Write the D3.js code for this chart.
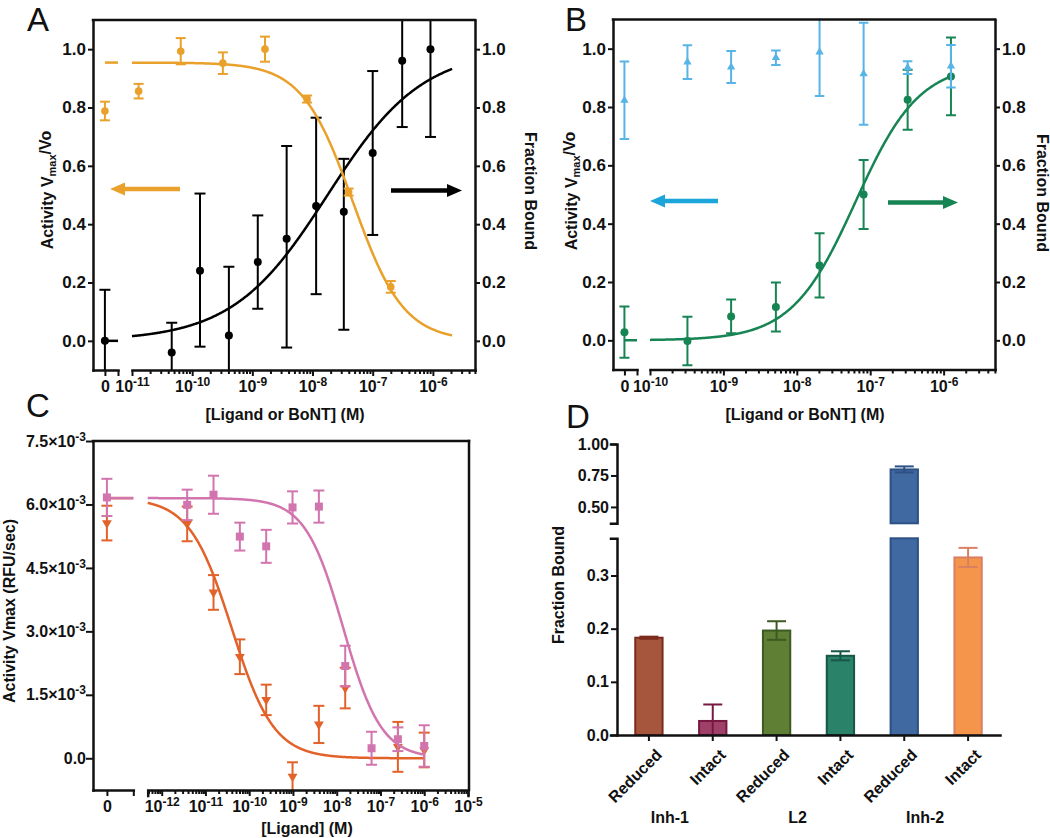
<!DOCTYPE html>
<html><head><meta charset="utf-8">
<script src="https://cdn.jsdelivr.net/npm/d3@7"></script>
<style>
body{margin:0;background:#fff;}
svg text{font-family:"Liberation Sans",Arial,Helvetica,sans-serif;}
</style></head><body>
<svg id="fig" width="1050" height="838"></svg>
<script>
// ================= DATA =================
// Panel A  (x = log10 concentration in M; "Zero" = no ligand control)
const aActLogX   = [-10.89,-10.19,-9.49,-8.79,-8.09,-7.40,-6.70];
const aActVal    = [0.856,0.993,0.952,1.000,0.829,0.510,0.185];
const aActErr    = [0.025,0.045,0.037,0.043,0.012,0.012,0.020];
const aActZero   = [0.788,0.032];               // value, error
const aBoundLogX = [-10.34,-9.87,-9.39,-8.91,-8.43,-7.94,-7.48,-7.00,-6.51,-6.04];
const aBoundVal  = [-0.040,0.240,0.018,0.270,0.350,0.462,0.443,0.644,0.960,1.000];
const aBoundLo   = [-0.140,-0.020,-0.220,0.110,-0.023,0.160,0.038,0.363,0.733,0.699];
const aBoundHi   = [0.062,0.505,0.254,0.430,0.668,0.765,0.624,0.925,1.190,1.300];
const aBoundZero = [0.000,-0.175,0.175];        // value, lo, hi
const aActFit    = [0.954,0,-7.33,1.03];        // start, end, logX50, hill
const aBoundFit  = [0,1.0,-7.75,0.55];
const aFitRange  = [-11,-5.68];

// Panel B
const bActLogX   = [-9.49,-8.895,-8.285,-7.69,-7.09,-6.49,-5.90];
const bActVal    = [0.954,0.937,0.969,0.988,0.914,0.935,0.940];
const bActErr    = [0.058,0.055,0.025,0.150,0.175,0.022,0.073];
const bActZero   = [0.823,0.133];
const bBoundLogX = [-9.49,-8.895,-8.285,-7.69,-7.09,-6.49,-5.90];
const bBoundVal  = [-0.002,0.082,0.114,0.257,0.500,0.825,0.905];
const bBoundErr  = [0.083,0.058,0.084,0.110,0.118,0.103,0.133];
const bBoundZero = [0.028,0.088];
const bBoundFit  = [0,0.95,-7.2,1.0];
const bFitRange  = [-10,-5.9];

// Panel C (values in RFU/sec)
const cPinkLogX  = [-11.418,-10.816,-10.214,-9.612,-9.010,-8.408,-7.806,-7.204,-6.602,-6.000];
const cPinkVal   = [5.99e-3,6.23e-3,5.24e-3,5.01e-3,5.93e-3,5.95e-3,2.18e-3,0.237e-3,0.45e-3,0.29e-3];
const cPinkErr   = [0.36e-3,0.45e-3,0.33e-3,0.39e-3,0.38e-3,0.38e-3,0.48e-3,0.39e-3,0.28e-3,0.49e-3];
const cPinkZero  = [6.166e-3,0.44e-3];
const cOrLogX    = [-11.418,-10.816,-10.214,-9.612,-9.010,-8.408,-7.806,-6.602,-6.000];
const cOrVal     = [5.54e-3,3.92e-3,2.40e-3,1.38e-3,-0.435e-3,0.80e-3,1.66e-3,0.27e-3,0.196e-3];
const cOrErr     = [0.41e-3,0.41e-3,0.41e-3,0.36e-3,0.34e-3,0.44e-3,0.48e-3,0.59e-3,0.41e-3];
const cOrZero    = [5.56e-3,0.41e-3];
const cPinkFit   = [6.15e-3,0,-7.85,1.0];
const cOrFit     = [6.15e-3,0,-10.4,0.9];
const cFitRange  = [-12.32,-6.0];
const cYTicks    = [0,1.5e-3,3.0e-3,4.5e-3,6.0e-3,7.5e-3];

// Panel D
const dLabels  = ["Reduced","Intact","Reduced","Intact","Reduced","Intact"];
const dGroups  = ["Inh-1","L2","Inh-2"];
const dVals    = [0.183,0.0264,0.1965,0.149,0.798,0.334];
const dErr     = [0.002,0.031,0.0175,0.0085,0.024,0.018];
const dFill    = ["#a5563c","#9f4068","#5f7f35","#2a8268","#4169a1","#f5944b"];
const dStroke  = ["#7d2b1c","#771841","#3d5a20","#175747","#2c5184","#d98062"];
const dLowTicks = [0,0.1,0.2,0.3];
const dHighTicks = [0.5,0.75,1.0];

// ================= HELPERS =================
const svg = d3.select('#fig');
const FONT = '"Liberation Sans", Arial, Helvetica, sans-serif';
const fit4 = (p,l) => p[0] + (p[1]-p[0])/(1+Math.pow(10,(p[2]-l)*p[3]));

function styleAxis(g, size){
  g.attr('font-family',FONT).attr('font-weight','bold').attr('font-size',size||16);
  g.select('.domain').attr('stroke','#111').attr('stroke-width',2.5).attr('stroke-linecap','square');
  g.selectAll('.tick line').attr('stroke','#111').attr('stroke-width',2);
  g.selectAll('.tick text').attr('fill','#111');
}
function logAxis(scale, y, outer){
  const [lo,hi] = scale.domain();
  const majors = d3.range(Math.ceil(Math.log10(lo)-1e-9), Math.floor(Math.log10(hi)+1e-9)+1).map(e=>Math.pow(10,e));
  const minors = scale.ticks().filter(v=>Math.abs(Math.log10(v)-Math.round(Math.log10(v)))>1e-6);
  const gm = svg.append('g').attr('transform',`translate(0,${y})`)
    .call(d3.axisBottom(scale).tickValues(minors).tickSize(4).tickSizeOuter(outer?6:0).tickFormat(''));
  styleAxis(gm);
  const gM = svg.append('g').attr('transform',`translate(0,${y})`)
    .call(d3.axisBottom(scale).tickValues(majors).tickSize(6).tickSizeOuter(0).tickPadding(5).tickFormat(''));
  styleAxis(gM);
  gM.select('.domain').remove();
  gM.selectAll('.tick text').each(function(d){
    const t = d3.select(this).text(null);
    t.append('tspan').text('10');
    t.append('tspan').attr('dy','-0.5em').attr('font-size',12).text(Math.round(Math.log10(d)));
  });
}
function zeroAxis(scale, y){
  const end = scale.domain()[1];
  const g = svg.append('g').attr('transform',`translate(0,${y})`)
    .call(d3.axisBottom(scale).tickValues([0,end]).tickSize(6).tickSizeOuter(0).tickPadding(5)
      .tickFormat(d=>d===0?'0':''));
  styleAxis(g);
}
function yAxis(scale, x, side, vals, fmt, size){
  const ax = (side==='left'?d3.axisLeft(scale):d3.axisRight(scale))
    .tickValues(vals).tickFormat(fmt).tickSize(5).tickSizeOuter(0).tickPadding(2);
  const g = svg.append('g').attr('transform',`translate(${x},0)`).call(ax);
  styleAxis(g,size);
  return g;
}
function hline(x1,x2,y){
  svg.append('line').attr('x1',x1).attr('x2',x2).attr('y1',y).attr('y2',y)
    .attr('stroke','#111').attr('stroke-width',2.5).attr('stroke-linecap','square');
}
function vline(x,y1,y2){
  svg.append('line').attr('x1',x).attr('x2',x).attr('y1',y1).attr('y2',y2)
    .attr('stroke','#111').attr('stroke-width',2.5).attr('stroke-linecap','square');
}
function errBar(g,x,y1,y2,color,cap){
  g.append('line').attr('x1',x).attr('x2',x).attr('y1',y1).attr('y2',y2).attr('stroke',color).attr('stroke-width',2);
  [y1,y2].forEach(y=>g.append('line').attr('x1',x-cap/2).attr('x2',x+cap/2).attr('y1',y).attr('y2',y)
    .attr('stroke',color).attr('stroke-width',2));
}
function marker(g,type,x,y,color,size,rot){
  if(type==='circle'){ g.append('circle').attr('cx',x).attr('cy',y).attr('r',size).attr('fill',color); return; }
  const sym = d3.symbol().type(type==='square'?d3.symbolSquare:d3.symbolTriangle).size(size);
  g.append('path').attr('d',sym()).attr('fill',color)
    .attr('transform',`translate(${x},${y}) rotate(${rot||0})`);
}
function fitCurve(g,xs,ys,p,range,color){
  const pts = d3.range(range[0],range[1],0.01).concat([range[1]]);
  g.append('path').datum(pts)
    .attr('d',d3.line().x(l=>xs(Math.pow(10,l))).y(l=>ys(fit4(p,l))))
    .attr('fill','none').attr('stroke',color).attr('stroke-width',2.5);
}
function zeroDash(g,x0,ys,p,color){
  const [a,b] = [0,x0.domain()[1]];
  g.append('line').attr('x1',x0(a)).attr('x2',x0(b)).attr('y1',ys(p[0])).attr('y2',ys(p[0]))
    .attr('stroke',color).attr('stroke-width',2.5);
}
function arrow(x1,x2,y,color){ // from x1 (tail) to x2 (tip)
  const dir = Math.sign(x2-x1), hl=15, hw=6.5, sw=2.2;
  const b = x2 - dir*hl;
  const d = `M${x1},${y-sw}L${b},${y-sw}L${b},${y-hw}L${x2},${y}L${b},${y+hw}L${b},${y+sw}L${x1},${y+sw}Z`;
  svg.append('path').attr('d',d).attr('fill',color);
}
function clipRect(id,x,y,w,h){
  svg.append('clipPath').attr('id',id).append('rect').attr('x',x).attr('y',y).attr('width',w).attr('height',h);
  return svg.append('g').attr('clip-path',`url(#${id})`);
}
function title(x,y,rot,parts,size){
  const t = svg.append('text').attr('transform',`translate(${x},${y}) rotate(${rot})`)
    .attr('text-anchor','middle').attr('dy','0.35em').attr('font-weight','bold').attr('font-size',size||16).attr('fill','#111');
  parts.forEach(p=>{
    const s = t.append('tspan').text(p[0]);
    if(p[1]==='sub') s.attr('font-size',11).attr('dy','0.35em');
    if(p[1]==='after') s.attr('dy','-0.35em');
  });
  return t;
}
function panelLetter(x,y,s){
  svg.append('text').attr('x',x).attr('y',y).attr('font-size',33).attr('font-weight','normal').attr('fill','#111').text(s);
}

// ================= PANEL A =================
const aX  = d3.scaleLog().domain([1e-11, Math.pow(10,-5.3)]).range([132,475]);
const aX0 = d3.scaleLinear().domain([-1,1.1]).range([93,118]);
const aY  = d3.scaleLinear().domain([-0.1,1.1]).range([370,20]);
{
  const g = clipRect('clipA',92,19,384,352);
  const black='#000', orange='#e9a12b';
  fitCurve(g,aX,aY,aBoundFit,aFitRange,black);
  zeroDash(g,aX0,aY,aBoundFit,black);
  errBar(g,aX0(0),aY(aBoundZero[1]),aY(aBoundZero[2]),black,11);
  marker(g,'circle',aX0(0),aY(aBoundZero[0]),black,4);
  aBoundLogX.forEach((l,i)=>{
    const x=aX(Math.pow(10,l));
    errBar(g,x,aY(aBoundLo[i]),aY(aBoundHi[i]),black,11);
    marker(g,'circle',x,aY(aBoundVal[i]),black,4);
  });
  fitCurve(g,aX,aY,aActFit,aFitRange,orange);
  zeroDash(g,aX0,aY,aActFit,orange);
  errBar(g,aX0(0),aY(aActZero[0]-aActZero[1]),aY(aActZero[0]+aActZero[1]),orange,10);
  marker(g,'circle',aX0(0),aY(aActZero[0]),orange,3.8);
  aActLogX.forEach((l,i)=>{
    const x=aX(Math.pow(10,l));
    errBar(g,x,aY(aActVal[i]-aActErr[i]),aY(aActVal[i]+aActErr[i]),orange,10);
    marker(g,'circle',x,aY(aActVal[i]),orange,3.8);
  });
  yAxis(aY,93,'left',[0,0.2,0.4,0.6,0.8,1.0],d3.format('.1f'),17);
  yAxis(aY,475,'right',[0,0.2,0.4,0.6,0.8,1.0],d3.format('.1f'),17);
  hline(93,475,20);
  zeroAxis(aX0,370);
  logAxis(aX,370,false);
  arrow(180,110,189,orange);
  arrow(391,462,190.5,black);
  title(47,190,-90,[['Activity V'],['max','sub'],['/Vo','after']]);
  title(531,191,90,[['Fraction Bound']]);
  title(285,414,0,[['[Ligand or BoNT] (M)']]);
  panelLetter(27,31,'A');
}

// ================= PANEL B =================
const bX  = d3.scaleLog().domain([1e-10, Math.pow(10,-5.3)]).range([650,995]);
const bX0 = d3.scaleLinear().domain([-1,1.1]).range([613,637]);
const bY  = d3.scaleLinear().domain([-0.1,1.1]).range([369.5,19.5]);
{
  const g = clipRect('clipB',612,18.5,384,352);
  const green='#168453', blue='#56b4e6';
  fitCurve(g,bX,bY,bBoundFit,bFitRange,green);
  zeroDash(g,bX0,bY,bBoundFit,green);
  errBar(g,bX0(0),bY(bBoundZero[0]-bBoundZero[1]),bY(bBoundZero[0]+bBoundZero[1]),green,10);
  marker(g,'circle',bX0(0),bY(bBoundZero[0]),green,4);
  bBoundLogX.forEach((l,i)=>{
    const x=bX(Math.pow(10,l));
    errBar(g,x,bY(bBoundVal[i]-bBoundErr[i]),bY(bBoundVal[i]+bBoundErr[i]),green,10);
    marker(g,'circle',x,bY(bBoundVal[i]),green,4);
  });
  errBar(g,bX0(0),bY(bActZero[0]-bActZero[1]),bY(bActZero[0]+bActZero[1]),blue,9.5);
  marker(g,'triangle',bX0(0),bY(bActZero[0]),blue,30);
  bActLogX.forEach((l,i)=>{
    const x=bX(Math.pow(10,l));
    errBar(g,x,bY(bActVal[i]-bActErr[i]),bY(bActVal[i]+bActErr[i]),blue,9.5);
    marker(g,'triangle',x,bY(bActVal[i]),blue,30);
  });
  yAxis(bY,613,'left',[0,0.2,0.4,0.6,0.8,1.0],d3.format('.1f'),17);
  yAxis(bY,995,'right',[0,0.2,0.4,0.6,0.8,1.0],d3.format('.1f'),17);
  hline(613,995,19.5);
  zeroAxis(bX0,369.5);
  logAxis(bX,369.5,false);
  arrow(718,650,201,'#1ba5d8');
  arrow(888,958,202.5,green);
  title(571,191,-90,[['Activity V'],['max','sub'],['/Vo','after']]);
  title(1043,193,90,[['Fraction Bound']]);
  title(805,414,0,[['[Ligand or BoNT] (M)']]);
  panelLetter(565,31,'B');
}

// ================= PANEL C =================
const cX  = d3.scaleLog().domain([Math.pow(10,-12.32), 1e-5]).range([147.7,468]);
const cX0 = d3.scaleLinear().domain([-1,1.9]).range([93,133.3]);
const cY  = d3.scaleLinear().domain([-0.75e-3,7.5e-3]).range([790,441]);
{
  const g = clipRect('clipC',92,440,378,351);
  const pink='#d274ae', orng='#e2622a';
  fitCurve(g,cX,cY,cOrFit,cFitRange,orng);
  zeroDash(g,cX0,cY,cOrFit,orng);
  errBar(g,cX0(0),cY(cOrZero[0]-cOrZero[1]),cY(cOrZero[0]+cOrZero[1]),orng,11);
  marker(g,'triangle',cX0(0),cY(cOrZero[0]),orng,42,180);
  cOrLogX.forEach((l,i)=>{
    const x=cX(Math.pow(10,l));
    errBar(g,x,cY(cOrVal[i]-cOrErr[i]),cY(cOrVal[i]+cOrErr[i]),orng,11);
    marker(g,'triangle',x,cY(cOrVal[i]),orng,42,180);
  });
  fitCurve(g,cX,cY,cPinkFit,cFitRange,pink);
  zeroDash(g,cX0,cY,cPinkFit,pink);
  errBar(g,cX0(0),cY(cPinkZero[0]-cPinkZero[1]),cY(cPinkZero[0]+cPinkZero[1]),pink,11);
  marker(g,'square',cX0(0),cY(cPinkZero[0]),pink,64);
  cPinkLogX.forEach((l,i)=>{
    const x=cX(Math.pow(10,l));
    errBar(g,x,cY(cPinkVal[i]-cPinkErr[i]),cY(cPinkVal[i]+cPinkErr[i]),pink,11);
    marker(g,'square',x,cY(cPinkVal[i]),pink,64);
  });
  const gy = yAxis(cY,93,'left',cYTicks,d=>d,16);
  gy.selectAll('.tick text').each(function(d){
    const t=d3.select(this).text(null);
    if(d===0){ t.text('0.0'); return; }
    t.append('tspan').text((d*1000).toFixed(1)+'\u00d710');
    t.append('tspan').attr('dy','-0.5em').attr('font-size',12).text('-3');
  });
  gy.selectAll('.tick line').attr('x2',-7);
  hline(93,469,441);
  vline(469,441,790);
  zeroAxis(cX0,790);
  logAxis(cX,790,true);
  title(9,611,-90,[['Activity Vmax (RFU/sec)']]);
  title(307,828,0,[['[Ligand] (M)']]);
  panelLetter(26,417,'C');
}

// ================= PANEL D =================
const dX = d3.scaleBand().domain(d3.range(dLabels.length)).range([617,1000]).paddingInner(0.572).paddingOuter(0.286);
const dYlo = d3.scaleLinear().domain([0,0.37]).range([735,538.3]);
const dYhi = d3.scaleLinear().domain([0.37,1.0]).range([523.3,444]);
{
  const brk = dYlo.domain()[1];
  const yv = v => v<=brk ? dYlo(v) : dYhi(v);
  dVals.forEach((v,i)=>{
    const x=dX(i), w=dX.bandwidth();
    const top = Math.min(v,brk);
    svg.append('rect').attr('x',x).attr('y',dYlo(top)).attr('width',w).attr('height',dYlo(0)-dYlo(top))
      .attr('fill',dFill[i]).attr('stroke',dStroke[i]).attr('stroke-width',2);
    if(v>brk){
      svg.append('rect').attr('x',x).attr('y',dYhi(v)).attr('width',w).attr('height',dYhi(brk)-dYhi(v))
        .attr('fill',dFill[i]).attr('stroke',dStroke[i]).attr('stroke-width',2);
    }
    const cx = x+w/2;
    errBar(svg,cx,yv(Math.max(0,v-dErr[i])),yv(v+dErr[i]),dStroke[i],19);
  });
  const gl = svg.append('g').attr('transform','translate(617,0)')
    .call(d3.axisLeft(dYlo).tickValues(dLowTicks).tickFormat(d3.format('.1f')).tickSize(6).tickSizeOuter(6).tickPadding(2));
  styleAxis(gl,16);
  const gh = svg.append('g').attr('transform','translate(617,0)')
    .call(d3.axisLeft(dYhi).tickValues(dHighTicks).tickFormat(d3.format('.2f')).tickSize(6).tickSizeOuter(6).tickPadding(2));
  styleAxis(gh,16);
  const gx = svg.append('g').attr('transform','translate(0,735)')
    .call(d3.axisBottom(dX).tickSize(6).tickSizeOuter(0).tickFormat(''));
  styleAxis(gx,16);
  dLabels.forEach((s,i)=>{
    const cx = dX(i)+dX.bandwidth()/2;
    svg.append('text').attr('transform',`translate(${cx+6},${748}) rotate(-45)`)
      .attr('text-anchor','end').attr('dy','0.7em').attr('font-size',16).attr('font-weight','bold').attr('fill','#111').text(s);
  });
  dGroups.forEach((s,j)=>{
    const cx = (dX(2*j)+dX(2*j+1)+dX.bandwidth())/2 - 11;
    svg.append('text').attr('x',cx).attr('y',823).attr('text-anchor','middle')
      .attr('font-size',16).attr('font-weight','bold').attr('fill','#111').text(s);
  });
  title(558,585,-90,[['Fraction Bound']]);
  panelLetter(566,428,'D');
}
</script>
</body></html>
